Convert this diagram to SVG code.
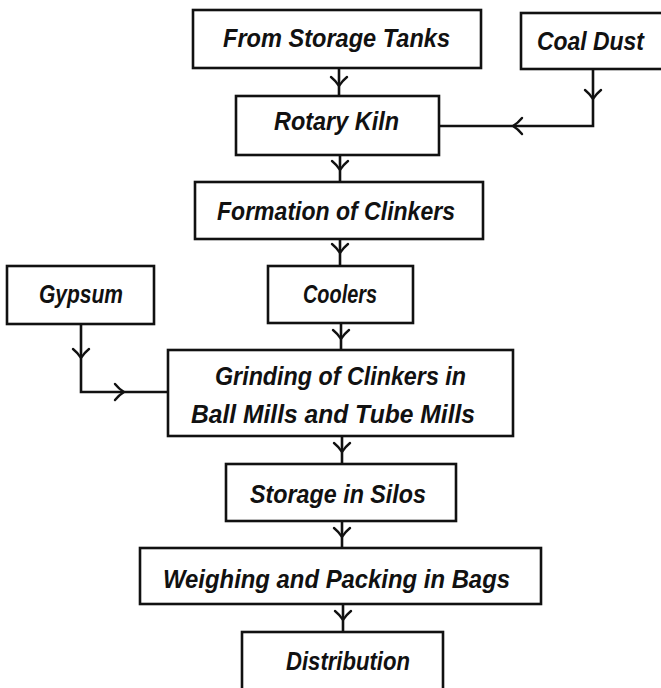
<svg xmlns="http://www.w3.org/2000/svg" xmlns:xlink="http://www.w3.org/1999/xlink" width="661" height="688" viewBox="0 0 661 688">
<style>
.box{fill:#fff;stroke:#111;stroke-width:2.6}
.t{font-family:"Liberation Sans",Arial,sans-serif;font-weight:bold;font-style:italic;font-size:25px;fill:#111;text-anchor:start}
.ln{fill:none;stroke:#111;stroke-width:2.6;stroke-linejoin:miter}
.ch{fill:none;stroke:#111;stroke-width:2.4;stroke-linecap:round}
</style>
<defs>
<path id="chev" class="ch" d="M-8,-9 Q-3,-5 0,0 Q3,-5 8,-9"/>
</defs>
<rect width="661" height="688" fill="#fff"/>
<g id="connectors">
<path class="ln" d="M339,68 V96"/>
<use xlink:href="#chev" href="#chev" transform="translate(339,86)"/>
<path class="ln" d="M340,155 V182"/>
<use xlink:href="#chev" href="#chev" transform="translate(340,170)"/>
<path class="ln" d="M593,69 V126 H439"/>
<use xlink:href="#chev" href="#chev" transform="translate(593,99)"/>
<use xlink:href="#chev" href="#chev" transform="translate(513,126) rotate(90)"/>
<path class="ln" d="M340,239 V266"/>
<use xlink:href="#chev" href="#chev" transform="translate(340,253)"/>
<path class="ln" d="M341,323 V350"/>
<use xlink:href="#chev" href="#chev" transform="translate(341,339)"/>
<path class="ln" d="M81,324 V392 H168"/>
<use xlink:href="#chev" href="#chev" transform="translate(81,358)"/>
<use xlink:href="#chev" href="#chev" transform="translate(124,392) rotate(-90)"/>
<path class="ln" d="M342,436 V464"/>
<use xlink:href="#chev" href="#chev" transform="translate(342,452)"/>
<path class="ln" d="M342,521 V548"/>
<use xlink:href="#chev" href="#chev" transform="translate(342,537)"/>
<path class="ln" d="M343,604 V632"/>
<use xlink:href="#chev" href="#chev" transform="translate(343,620)"/>
</g>
<g id="n-storage-tanks">
<rect class="box" x="193" y="10" width="288" height="58"/>
<text class="t" x="223" y="47" textLength="227" lengthAdjust="spacingAndGlyphs">From Storage Tanks</text>
</g>
<g id="n-coal-dust">
<rect class="box" x="521" y="13" width="145" height="56"/>
<text class="t" x="537" y="50" textLength="107" lengthAdjust="spacingAndGlyphs">Coal Dust</text>
</g>
<g id="n-rotary-kiln">
<rect class="box" x="236" y="96" width="203" height="59"/>
<text class="t" x="274" y="130" textLength="125" lengthAdjust="spacingAndGlyphs">Rotary Kiln</text>
</g>
<g id="n-formation">
<rect class="box" x="195" y="182" width="288" height="57"/>
<text class="t" x="217" y="220" textLength="238" lengthAdjust="spacingAndGlyphs">Formation of Clinkers</text>
</g>
<g id="n-gypsum">
<rect class="box" x="7" y="266" width="147" height="58"/>
<text class="t" x="39" y="303" textLength="84" lengthAdjust="spacingAndGlyphs">Gypsum</text>
</g>
<g id="n-coolers">
<rect class="box" x="268" y="266" width="145" height="57"/>
<text class="t" x="303" y="303" textLength="74" lengthAdjust="spacingAndGlyphs">Coolers</text>
</g>
<g id="n-grinding">
<rect class="box" x="168" y="350" width="345" height="86"/>
<text class="t" x="215" y="385" textLength="251" lengthAdjust="spacingAndGlyphs">Grinding of Clinkers in</text>
<text class="t" x="191" y="423" textLength="284" lengthAdjust="spacingAndGlyphs">Ball Mills and Tube Mills</text>
</g>
<g id="n-silos">
<rect class="box" x="226" y="464" width="230" height="57"/>
<text class="t" x="250" y="503" textLength="176" lengthAdjust="spacingAndGlyphs">Storage in Silos</text>
</g>
<g id="n-weighing">
<rect class="box" x="140" y="548" width="401" height="56"/>
<text class="t" x="163" y="588" textLength="347" lengthAdjust="spacingAndGlyphs">Weighing and Packing in Bags</text>
</g>
<g id="n-distribution">
<rect class="box" x="242" y="632" width="201" height="70"/>
<text class="t" x="286" y="670" textLength="124" lengthAdjust="spacingAndGlyphs">Distribution</text>
</g>
</svg>
